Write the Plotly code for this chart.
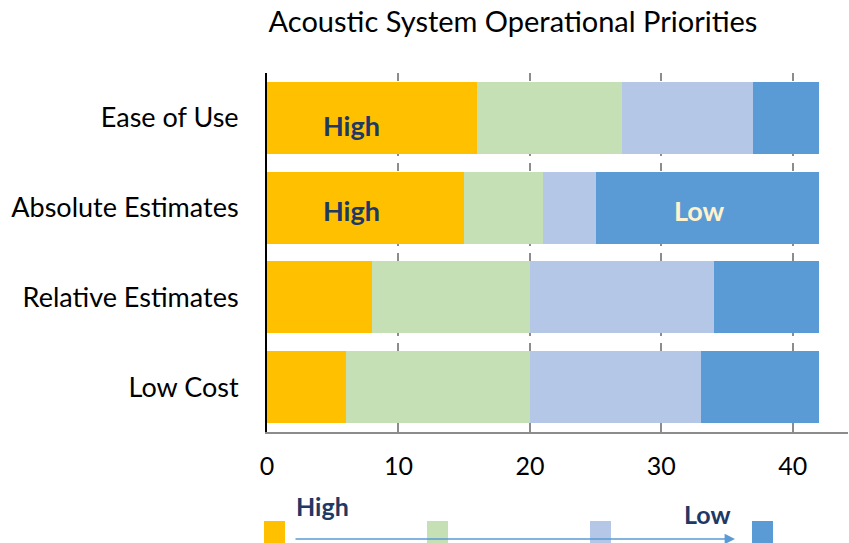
import plotly.graph_objects as go

categories = ["Ease of Use", "Absolute Estimates", "Relative Estimates", "Low Cost"]
level_names = ["High", "Medium-High", "Medium-Low", "Low"]
high_vals = [16, 15, 8, 6]
med_high_vals = [11, 6, 12, 14]
med_low_vals = [10, 4, 14, 13]
low_vals = [5, 17, 8, 9]
colors = ["#FFC000", "#C5E0B4", "#B4C7E7", "#5B9BD5"]
x_ticks = [0, 10, 20, 30, 40]

FONT = "Lato"
# target screen geometry of the plot area (page body margin removed below)
SL, SR, ST, SB = 267, 848, 73, 432
W, H = 849, 543
L, T = SL, ST
R = W - SR
B = H - SB
PW = W - L - R
PH = H - T - B


def px_x(x):
    return (x - SL) / PW


def px_y(y):
    return (SB - y) / PH


fig = go.Figure()
for name, vals, col in zip(level_names, [high_vals, med_high_vals, med_low_vals, low_vals], colors):
    fig.add_trace(go.Bar(
        y=categories, x=vals, orientation="h", name=name,
        marker=dict(color=col, line=dict(width=0)),
        hoverinfo="x+y+name",
    ))

ann = []
# in-bar labels
ann.append(dict(x=6.45, y="Ease of Use", xref="x", yref="y", text="<b>High</b>", showarrow=False,
                yshift=-8, font=dict(family=FONT, size=27, color="#203864")))
ann.append(dict(x=6.45, y="Absolute Estimates", xref="x", yref="y", text="<b>High</b>", showarrow=False,
                yshift=-3, font=dict(family=FONT, size=27, color="#203864")))
ann.append(dict(x=32.9, y="Absolute Estimates", xref="x", yref="y", text="<b>Low</b>", showarrow=False,
                yshift=-3, font=dict(family=FONT, size=27, color="#FFF2CC")))
# bottom scale legend
ann.append(dict(x=px_x(735), y=px_y(539), xref="paper", yref="paper", text="", showarrow=True,
                ax=-(735 - 294), ay=0, axref="pixel", ayref="pixel",
                arrowhead=2, arrowsize=1.6, arrowwidth=1.3, arrowcolor="#5B9BD5", standoff=0))
ann.append(dict(x=px_x(322.5), y=px_y(506), xref="paper", yref="paper", text="<b>High</b>", showarrow=False,
                xanchor="center", yanchor="middle",
                font=dict(family=FONT, size=25, color="#203864")))
ann.append(dict(x=px_x(707.5), y=px_y(514), xref="paper", yref="paper", text="<b>Low</b>", showarrow=False,
                xanchor="center", yanchor="middle",
                font=dict(family=FONT, size=25, color="#203864")))

shapes = []
for x0, col in zip([264, 427, 590, 752], colors):
    shapes.append(dict(type="rect", xref="paper", yref="paper",
                       x0=px_x(x0), x1=px_x(x0 + 21), y0=px_y(545), y1=px_y(521),
                       fillcolor=col, line=dict(width=0), layer="below"))

fig.update_layout(
    barmode="stack",
    bargap=0.2,
    width=W, height=H,
    margin=dict(l=L, r=R, t=T, b=B, pad=0),
    plot_bgcolor="white", paper_bgcolor="white",
    showlegend=False,
    font=dict(family=FONT, color="black"),
    title=dict(text="Acoustic System Operational Priorities", x=513 / W, xanchor="center",
               xref="container",
               y=1 - 8 / H, yanchor="top", yref="container", pad=dict(t=4),
               font=dict(family=FONT, size=29, color="black")),
    annotations=ann,
    shapes=shapes,
)
fig.update_xaxes(
    range=[0, 44.2], tickvals=x_ticks, ticktext=[str(v) for v in x_ticks],
    showgrid=True, gridcolor="#8C8C8C", gridwidth=1.5, griddash="8px,7px",
    showline=True, linecolor="#8C8C8C", linewidth=1.5,
    ticks="inside", ticklen=9, tickwidth=1.5, tickcolor="#8C8C8C",
    zeroline=False, tickfont=dict(family=FONT, size=25, color="black"),
    ticklabelstandoff=11,
)
fig.update_yaxes(
    autorange="reversed", showline=True, linecolor="black", linewidth=2,
    showgrid=False, ticks="", tickfont=dict(family=FONT, size=27, color="black"),
    ticklabelstandoff=21,
)

fig.write_html("out.html", config={"displayModeBar": False},
               post_script="document.body.style.margin='0px';document.body.style.overflow='hidden';")
